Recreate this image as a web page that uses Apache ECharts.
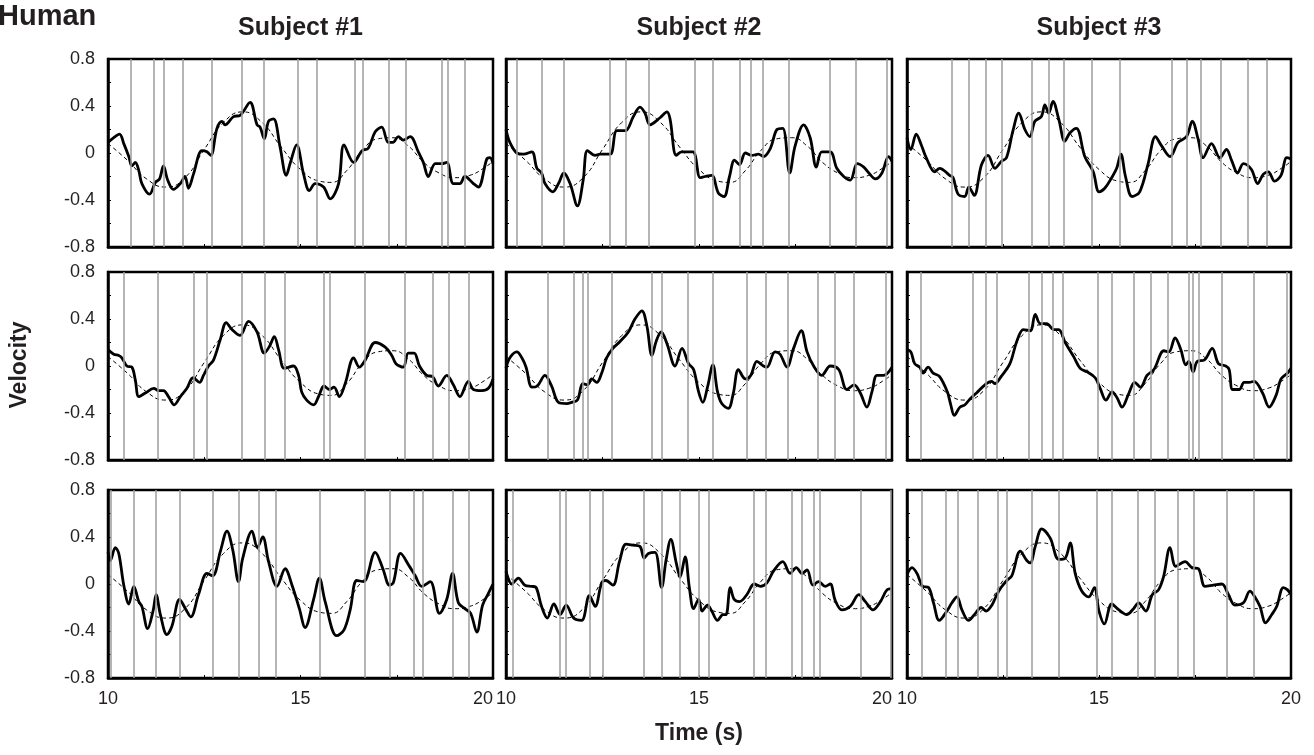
<!DOCTYPE html>
<html>
<head>
<meta charset="utf-8">
<script src="https://cdn.jsdelivr.net/npm/echarts@6/dist/echarts.min.js"></script>
<style>
  html, body { margin: 0; padding: 0; background: #fff; }
  #chart { width: 1314px; height: 755px; }
</style>
</head>
<body>
<div id="chart"></div>
<script>
// column / row titles
var subjects = ['Subject #1', 'Subject #2', 'Subject #3'];
var yTicks = ['0.8', '0.4', '0', '-0.4', '-0.8'];
var xTicks = ['10', '15', '20'];

// target velocity (dashed reference), [time, velocity]
var reference = [[10, 0.08], [10.5, -0.06], [11, -0.22], [11.5, -0.29], [12, -0.21], [12.5, 0.03],
  [13, 0.26], [13.5, 0.35], [14, 0.26], [14.5, 0.05], [15, -0.14], [15.5, -0.24], [15.8, -0.25],
  [16.2, -0.15], [16.6, 0.02], [17, 0.12], [17.4, 0.13], [17.8, 0.06], [18.2, -0.08], [18.6, -0.17],
  [19, -0.21], [19.4, -0.19], [19.8, -0.12], [20, -0.07]];

// hand velocity, subject 1, trials 1-3
var sub1Trial1 = [[10,0.09],[10.15,0.13],[10.3,0.16],[10.41,0.08],[10.54,-0.03],[10.62,-0.11],[10.71,-0.08],[10.8,-0.15],[10.88,-0.26],[11.08,-0.35],[11.23,-0.25],[11.34,-0.22],[11.44,-0.11],[11.55,-0.23],[11.7,-0.31],[11.88,-0.26],[12.0,-0.2],[12.09,-0.3],[12.22,-0.18],[12.44,0.02],[12.57,0.01],[12.67,-0.02],[12.83,0.21],[12.96,0.27],[13.04,0.24],[13.26,0.31],[13.43,0.32],[13.69,0.43],[13.87,0.24],[13.95,0.22],[14.06,0.12],[14.17,0.27],[14.3,0.29],[14.47,0.05],[14.63,-0.19],[14.73,-0.09],[14.9,0.07],[15.08,-0.18],[15.23,-0.32],[15.38,-0.26],[15.6,-0.29],[15.77,-0.39],[15.99,-0.26],[16.13,0.07],[16.38,-0.08],[16.6,0.02],[16.76,0.04],[16.94,0.18],[17.11,0.22],[17.28,0.09],[17.4,0.09],[17.54,0.14],[17.67,0.11],[17.85,0.14],[18.06,0.01],[18.19,-0.08],[18.32,-0.2],[18.5,-0.09],[18.67,-0.09],[18.8,-0.08],[18.97,-0.26],[19.14,-0.26],[19.27,-0.2],[19.49,-0.26],[19.62,-0.29],[19.84,-0.05],[19.92,-0.04],[20,-0.09]];
var sub1Trial2 = [[10,0.14],[10.15,0.1],[10.28,0.09],[10.36,0.07],[10.49,0],[10.62,-0.01],[10.71,-0.12],[10.8,-0.26],[10.97,-0.23],[11.19,-0.19],[11.31,-0.21],[11.44,-0.21],[11.57,-0.26],[11.72,-0.33],[11.88,-0.26],[12.05,-0.19],[12.21,-0.1],[12.38,-0.14],[12.48,-0.08],[12.61,0],[12.74,0.05],[12.92,0.23],[13.07,0.37],[13.22,0.31],[13.43,0.26],[13.65,0.38],[13.87,0.29],[14.06,0.11],[14.2,0.17],[14.32,0.25],[14.43,0.14],[14.58,-0.02],[14.82,0],[14.95,-0.08],[15.03,-0.22],[15.16,-0.29],[15.34,-0.33],[15.47,-0.26],[15.61,-0.17],[15.75,-0.2],[15.87,-0.18],[16.01,-0.26],[16.16,-0.15],[16.38,0.07],[16.53,-0.01],[16.68,0.05],[16.94,0.2],[17.2,0.16],[17.37,0.09],[17.48,0.02],[17.67,-0.01],[17.8,0.11],[17.95,0.11],[18.09,0],[18.28,-0.08],[18.43,-0.09],[18.58,-0.17],[18.8,-0.08],[18.97,-0.16],[19.14,-0.26],[19.36,-0.13],[19.49,-0.2],[19.71,-0.21],[19.88,-0.19],[20,-0.11]];
var sub1Trial3 = [[10,0.27],[10.06,0.2],[10.19,0.31],[10.28,0.26],[10.41,-0.01],[10.54,-0.17],[10.67,-0.02],[10.8,-0.15],[10.88,-0.19],[11.03,-0.38],[11.17,-0.23],[11.25,-0.09],[11.36,-0.26],[11.53,-0.43],[11.66,-0.36],[11.86,-0.13],[12.01,-0.21],[12.15,-0.28],[12.35,-0.09],[12.57,0.09],[12.72,0.07],[12.92,0.28],[13.09,0.45],[13.24,0.29],[13.39,0.02],[13.5,0.22],[13.74,0.45],[13.88,0.31],[14.02,0.4],[14.17,0.19],[14.39,-0.02],[14.6,0.13],[14.78,-0.01],[14.97,-0.21],[15.12,-0.37],[15.34,-0.13],[15.49,0.05],[15.64,-0.15],[15.94,-0.44],[16.13,-0.39],[16.29,-0.22],[16.46,0.03],[16.64,0.02],[16.94,0.27],[17.14,0.13],[17.31,-0.01],[17.41,0.01],[17.6,0.26],[17.83,0.15],[17.98,0.07],[18.15,-0.02],[18.37,0.02],[18.61,-0.25],[18.8,-0.13],[18.95,0.09],[19.1,-0.16],[19.27,-0.21],[19.42,-0.25],[19.58,-0.41],[19.73,-0.18],[19.88,-0.08],[20,0]];

// subject 2
var sub2Trial1 = [[10,0.2],[10.1,0.09],[10.28,0],[10.45,-0.01],[10.67,0.01],[10.8,-0.13],[10.92,-0.17],[11.01,-0.26],[11.21,-0.33],[11.36,-0.26],[11.5,-0.17],[11.66,-0.26],[11.85,-0.45],[12.0,-0.23],[12.11,0.02],[12.31,-0.02],[12.44,-0.01],[12.7,-0.01],[12.87,0.19],[13.09,0.19],[13.3,0.31],[13.47,0.39],[13.6,0.34],[13.73,0.24],[13.99,0.3],[14.17,0.35],[14.25,0.29],[14.41,-0.02],[14.55,0.01],[14.84,0.01],[15.03,-0.21],[15.16,-0.2],[15.33,-0.19],[15.5,-0.34],[15.65,-0.37],[15.79,-0.2],[15.92,-0.06],[16.05,-0.1],[16.2,0],[16.37,-0.02],[16.54,-0.01],[16.67,-0.03],[16.85,0.04],[17.02,0.2],[17.17,0.21],[17.35,-0.17],[17.49,0.06],[17.71,0.24],[17.88,0.13],[18.04,-0.12],[18.18,0.01],[18.4,0.01],[18.57,-0.13],[18.75,-0.2],[18.92,-0.23],[19.1,-0.09],[19.27,-0.12],[19.4,-0.17],[19.57,-0.22],[19.74,-0.17],[19.91,-0.03],[20,-0.07]];
var sub2Trial2 = [[10,-0.02],[10.1,0.07],[10.28,0.12],[10.41,0.07],[10.52,-0.01],[10.67,-0.18],[10.81,-0.17],[11.01,-0.08],[11.18,-0.17],[11.36,-0.31],[11.57,-0.32],[11.7,-0.31],[11.85,-0.29],[11.99,-0.15],[12.11,-0.16],[12.22,-0.11],[12.35,-0.14],[12.48,-0.06],[12.61,0.07],[12.77,0.15],[12.96,0.21],[13.17,0.29],[13.34,0.4],[13.52,0.47],[13.65,0.34],[13.78,0.09],[13.9,0.22],[14.02,0.29],[14.17,0.19],[14.38,0],[14.56,0.15],[14.73,0.02],[14.86,-0.03],[14.99,-0.22],[15.1,-0.31],[15.22,-0.18],[15.36,0.01],[15.48,-0.22],[15.59,-0.32],[15.76,-0.36],[15.89,-0.23],[16.02,-0.03],[16.2,-0.11],[16.34,-0.08],[16.5,0.04],[16.67,0],[16.76,-0.01],[16.97,0.12],[17.1,0.1],[17.28,-0.01],[17.45,0.15],[17.65,0.3],[17.8,0.12],[17.97,0],[18.18,-0.08],[18.4,0],[18.62,-0.03],[18.83,-0.2],[19.02,-0.16],[19.18,-0.23],[19.35,-0.35],[19.48,-0.22],[19.61,-0.08],[19.78,-0.08],[20,-0.01]];
var sub2Trial3 = [[10,0.11],[10.15,0],[10.32,0.05],[10.49,-0.01],[10.67,-0.02],[10.78,-0.03],[10.92,-0.19],[11.07,-0.29],[11.24,-0.17],[11.4,-0.26],[11.56,-0.18],[11.75,-0.29],[11.96,-0.31],[12.16,-0.1],[12.31,-0.19],[12.48,0.01],[12.59,0.03],[12.77,-0.01],[12.94,0.19],[13.11,0.34],[13.3,0.33],[13.47,0.32],[13.58,0.22],[13.69,0.26],[13.86,0.27],[14.03,-0.03],[14.15,0.21],[14.27,0.38],[14.41,0.18],[14.51,0.06],[14.64,0.23],[14.75,-0.03],[14.86,-0.21],[14.99,-0.13],[15.08,-0.23],[15.22,-0.18],[15.33,-0.23],[15.48,-0.31],[15.62,-0.26],[15.7,-0.26],[15.81,-0.03],[15.91,-0.13],[16.05,-0.15],[16.24,-0.09],[16.43,0],[16.59,-0.02],[16.76,0.01],[16.93,0.11],[17.17,0.19],[17.36,0.09],[17.52,0.14],[17.67,0.09],[17.8,0.12],[17.95,-0.01],[18.1,0.02],[18.27,-0.02],[18.4,0],[18.53,-0.14],[18.7,-0.22],[18.92,-0.19],[19.14,-0.09],[19.31,-0.15],[19.51,-0.22],[19.7,-0.15],[19.87,-0.05],[20,-0.04]];

// subject 3
var sub3Trial1 = [[10,0.13],[10.1,0.03],[10.24,0.16],[10.37,0.07],[10.5,-0.04],[10.72,-0.16],[10.85,-0.13],[11.11,-0.19],[11.2,-0.21],[11.33,-0.35],[11.5,-0.37],[11.61,-0.29],[11.75,-0.36],[11.94,-0.1],[12.11,-0.02],[12.29,-0.13],[12.46,-0.07],[12.59,-0.04],[12.76,0.19],[12.91,0.34],[13.07,0.2],[13.2,0.14],[13.33,0.27],[13.5,0.31],[13.59,0.41],[13.69,0.34],[13.8,0.44],[13.95,0.29],[14.11,0.1],[14.24,0.17],[14.41,0.21],[14.63,-0.03],[14.85,-0.16],[15.0,-0.33],[15.15,-0.3],[15.33,-0.21],[15.46,-0.13],[15.57,-0.01],[15.69,-0.2],[15.86,-0.37],[16.06,-0.33],[16.28,-0.09],[16.47,0.14],[16.63,0.06],[16.85,-0.03],[17.06,0.09],[17.28,0.14],[17.43,0.27],[17.58,0.12],[17.71,-0.04],[17.93,0.08],[18.15,-0.04],[18.32,0.03],[18.45,-0.06],[18.61,-0.17],[18.76,-0.09],[18.97,-0.14],[19.13,-0.26],[19.28,-0.18],[19.41,-0.16],[19.57,-0.24],[19.74,-0.19],[19.89,-0.04],[20,-0.05]];
var sub3Trial2 = [[10,0.14],[10.1,0.12],[10.2,0.02],[10.33,-0.01],[10.42,-0.06],[10.55,-0.01],[10.68,-0.06],[10.85,-0.09],[11.05,-0.22],[11.14,-0.33],[11.23,-0.42],[11.38,-0.35],[11.51,-0.33],[11.64,-0.28],[11.81,-0.23],[12.03,-0.16],[12.2,-0.13],[12.29,-0.15],[12.45,-0.09],[12.68,0.02],[12.86,0.21],[13.03,0.31],[13.21,0.3],[13.34,0.44],[13.47,0.36],[13.64,0.36],[13.82,0.31],[13.95,0.31],[14.12,0.2],[14.34,0.08],[14.51,-0.02],[14.69,-0.05],[14.9,-0.1],[15.03,-0.19],[15.18,-0.29],[15.34,-0.22],[15.47,-0.27],[15.6,-0.35],[15.78,-0.23],[15.93,-0.14],[16.08,-0.18],[16.25,-0.08],[16.43,-0.03],[16.69,0.13],[16.82,0.12],[16.98,0.24],[17.13,0.14],[17.26,0.01],[17.34,0.04],[17.45,-0.05],[17.56,0.04],[17.74,0.05],[17.95,0.15],[18.11,0.02],[18.3,0],[18.39,-0.03],[18.48,-0.2],[18.65,-0.2],[18.78,-0.14],[18.91,-0.14],[19.04,-0.13],[19.26,-0.23],[19.43,-0.35],[19.61,-0.25],[19.74,-0.11],[19.91,-0.06],[20,-0.02]];
var sub3Trial3 = [[10,0.08],[10.13,0.14],[10.26,0.09],[10.41,-0.02],[10.56,-0.03],[10.69,-0.16],[10.84,-0.31],[11.04,-0.23],[11.17,-0.16],[11.3,-0.11],[11.43,-0.22],[11.6,-0.31],[11.78,-0.25],[11.93,-0.2],[12.06,-0.23],[12.21,-0.18],[12.34,-0.09],[12.45,-0.03],[12.6,0.03],[12.73,0.07],[12.95,0.28],[13.12,0.2],[13.21,0.18],[13.34,0.32],[13.51,0.47],[13.73,0.39],[13.95,0.21],[14.12,0.22],[14.25,0.35],[14.38,0.09],[14.55,-0.06],[14.73,-0.11],[14.88,-0.03],[15.0,-0.23],[15.14,-0.34],[15.33,-0.17],[15.52,-0.22],[15.72,-0.26],[15.9,-0.21],[16.03,-0.16],[16.22,-0.23],[16.39,-0.09],[16.55,-0.05],[16.68,0.06],[16.85,0.31],[17.0,0.15],[17.24,0.19],[17.42,0.14],[17.59,0.13],[17.76,-0.02],[17.98,-0.01],[18.2,0],[18.37,-0.09],[18.54,-0.18],[18.76,-0.16],[18.93,-0.06],[19.06,-0.11],[19.19,-0.19],[19.34,-0.33],[19.5,-0.26],[19.63,-0.19],[19.8,-0.03],[19.91,-0.05],[20,-0.09]];

// event times (grey vertical lines), seconds
var sub1Marks1 = [10.6, 11.2, 11.46, 11.94, 12.7, 13.48, 14.04, 14.93, 15.41, 16.4, 16.62, 17.28, 17.73, 18.67, 18.82, 19.27];
var sub1Marks2 = [10.42, 11.3, 12.22, 12.57, 13.48, 14.08, 14.58, 15.6, 15.75, 16.68, 17.7, 18.43, 18.84, 19.38];
var sub1Marks3 = [10.06, 10.67, 11.25, 11.86, 12.72, 13.39, 13.91, 14.37, 15.51, 16.68, 17.33, 17.95, 18.17, 18.95, 19.36];
var sub2Marks1 = [10.29, 10.92, 11.49, 12.68, 13.1, 13.71, 14.89, 15.36, 16.05, 16.33, 16.66, 17.33, 18.4, 19.07, 19.87];
var sub2Marks2 = [11.07, 11.75, 11.99, 12.13, 12.74, 13.78, 14.03, 14.71, 15.36, 16.24, 16.73, 17.29, 18.08, 18.51, 19.01, 19.84];
var sub2Marks3 = [10.17, 11.38, 11.56, 12.16, 12.51, 13.58, 14.04, 14.49, 14.99, 15.25, 16.43, 16.74, 17.39, 17.67, 17.97, 18.12, 19.2, 19.96];
var sub3Marks1 = [11.17, 11.62, 12.06, 12.46, 13.24, 13.68, 14.09, 14.8, 15.54, 16.89, 17.29, 17.65, 18.17, 18.87, 19.38];
var sub3Marks2 = [10.36, 11.7, 12.06, 12.33, 13.18, 13.51, 13.79, 14.05, 14.97, 15.34, 15.91, 16.36, 16.8, 17.34, 17.43, 17.59, 18.2, 19.02, 19.9];
var sub3Marks3 = [10.39, 11.0, 11.33, 11.85, 12.37, 12.6, 13.24, 13.95, 14.93, 15.33, 16.01, 16.46, 17.05, 17.48, 18.33, 19.02];

var velocity = [
    [sub1Trial1, sub2Trial1, sub3Trial1],
    [sub1Trial2, sub2Trial2, sub3Trial2],
    [sub1Trial3, sub2Trial3, sub3Trial3]
];
var marks = [
    [sub1Marks1, sub2Marks1, sub3Marks1],
    [sub1Marks2, sub2Marks2, sub3Marks2],
    [sub1Marks3, sub2Marks3, sub3Marks3]
];

var chart = echarts.init(document.getElementById('chart'));

var font = 'Arial, "Liberation Sans", sans-serif';
var colLeft = [108, 506, 907];
var colWidth = [385, 386, 384];
var rowTop = [59, 272, 490];
var rowHeight = 188;

var grids = [], xAxes = [], yAxes = [], series = [];

for (var r = 0; r < 3; r++) {
    for (var c = 0; c < 3; c++) {
        var i = r * 3 + c;
        grids.push({
            left: colLeft[c], top: rowTop[r], width: colWidth[c], height: rowHeight,
            show: true, borderColor: '#000', borderWidth: 2.5, backgroundColor: '#fff'
        });
        xAxes.push({
            type: 'value', gridIndex: i, min: 10, max: 20, interval: 2.5,
            axisLine: { show: true, onZero: false, lineStyle: { color: '#000', width: 2.5 } },
            axisTick: { show: true, inside: true, length: 3, lineStyle: { color: '#000', width: 1 } },
            splitLine: { show: false },
            axisLabel: {
                show: r === 2,
                margin: 12,
                fontFamily: font, fontSize: 18, color: '#231f20',
                alignMaxLabel: c < 2 ? 'right' : 'center',
                formatter: function (v) {
                    var s = String(Math.round(v * 10) / 10);
                    return xTicks.indexOf(s) >= 0 ? s : '';
                }
            }
        });
        yAxes.push({
            type: 'value', gridIndex: i, min: -0.8, max: 0.8, interval: 0.2,
            axisLine: { show: true, onZero: false, lineStyle: { color: '#000', width: 2.5 } },
            axisTick: { show: true, inside: true, length: 3, lineStyle: { color: '#000', width: 1 } },
            splitLine: { show: false },
            axisLabel: {
                show: c === 0,
                margin: 13,
                fontFamily: font, fontSize: 18, color: '#231f20',
                formatter: function (v) {
                    var k = Math.round(v * 10) / 10;
                    var s = k === 0 ? '0' : k.toFixed(1);
                    return yTicks.indexOf(s) >= 0 ? s : '';
                }
            }
        });

        // grey event lines
        series.push({
            type: 'line', xAxisIndex: i, yAxisIndex: i, data: [], z: 1,
            markLine: {
                silent: true, symbol: ['none', 'none'], animation: false,
                label: { show: false },
                lineStyle: { color: '#9d9d9d', width: 1.5, type: 'solid' },
                data: marks[r][c].map(function (t) { return { xAxis: t }; })
            }
        });
        // target (dashed)
        series.push({
            type: 'line', xAxisIndex: i, yAxisIndex: i, data: reference, z: 2,
            smooth: true, showSymbol: false, silent: true,
            lineStyle: { color: '#000', width: 1, type: [4, 3] }
        });
        // hand velocity
        series.push({
            type: 'line', xAxisIndex: i, yAxisIndex: i, data: velocity[r][c], z: 3,
            smooth: 0.35, showSymbol: false, silent: true,
            lineStyle: { color: '#000', width: 2.8 }
        });
    }
}

var texts = [
    { type: 'text', left: -2, top: 2, style: { text: 'Human', font: 'bold 29px ' + font, fill: '#231f20' } },
    { type: 'text', x: 699, y: 734,
      style: { text: 'Time (s)', font: 'bold 23px ' + font, fill: '#231f20', textAlign: 'center', textVerticalAlign: 'middle' } },
    { type: 'text', x: 20, y: 365, rotation: Math.PI / 2,
      style: { text: 'Velocity', font: 'bold 23px ' + font, fill: '#231f20', textAlign: 'center', textVerticalAlign: 'middle' } }
];
subjects.forEach(function (name, c) {
    texts.push({
        type: 'text', x: colLeft[c] + colWidth[c] / 2, y: 28,
        style: { text: name, font: 'bold 25px ' + font, fill: '#231f20', textAlign: 'center', textVerticalAlign: 'middle' }
    });
});

chart.setOption({
    animation: false,
    backgroundColor: '#fff',
    grid: grids,
    xAxis: xAxes,
    yAxis: yAxes,
    series: series,
    graphic: texts
});
</script>
</body>
</html>
